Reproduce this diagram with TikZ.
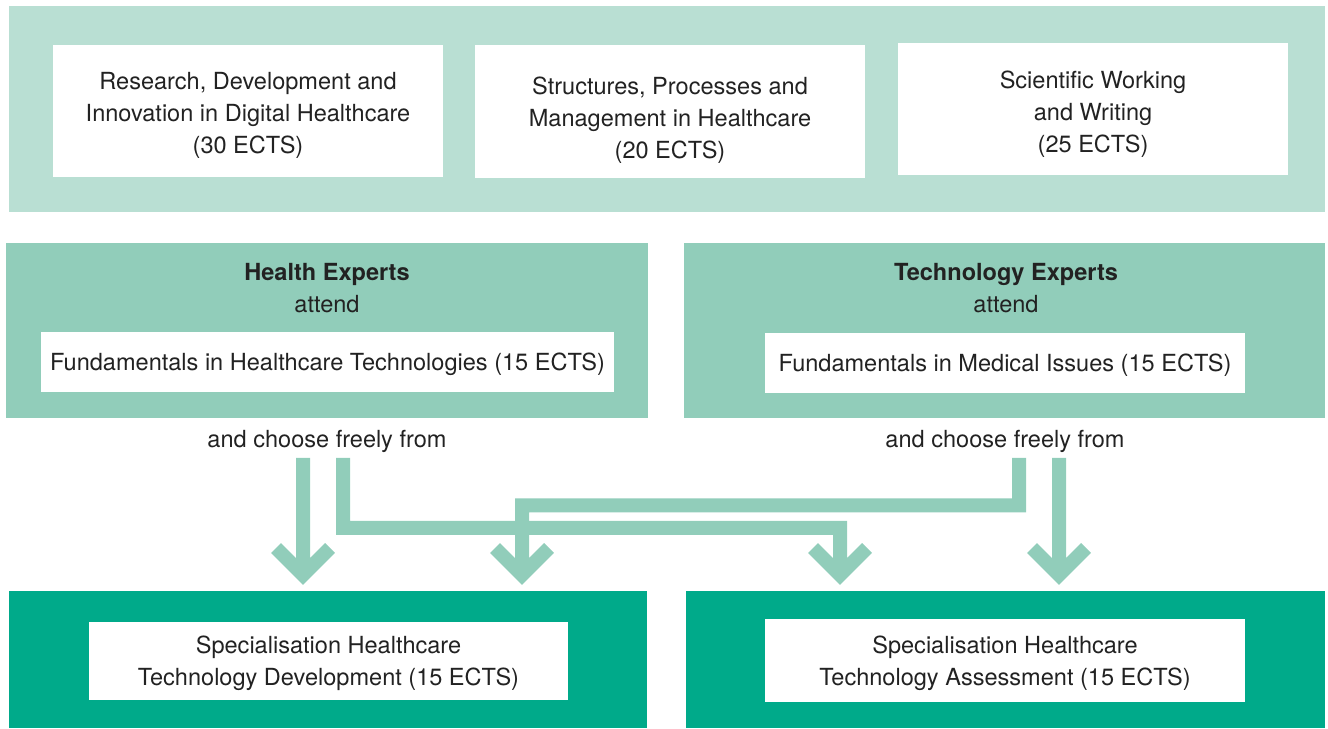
\documentclass[tikz,border=0pt]{standalone}
\usepackage{fontspec}
\setmainfont{TeX Gyre Heros}
\usepackage{xcolor}
\usetikzlibrary{positioning}

\definecolor{bandmint}{HTML}{B9DFD3}
\definecolor{expertmint}{HTML}{91CDBA}
\definecolor{specgreen}{HTML}{00AA8A}
\definecolor{inkgrey}{HTML}{222222}

\begin{document}
\begin{tikzpicture}[
    x=0.2mm, y=-0.2mm,
    font=\fontsize{13.4}{18.2}\selectfont, text=inkgrey,
    panel/.style 2 args={rectangle, inner sep=0pt, minimum width=#1*0.2mm, minimum height=#2*0.2mm},
    band/.style={fill=bandmint},
    expert/.style={fill=expertmint},
    spec/.style={fill=specgreen},
    module/.style={fill=white},
    caption/.style={align=center, inner sep=0pt},
    flow/.style={draw=expertmint, line width=14*0.2mm}
]
\useasboundingbox (0,0) rectangle (1328,729);

% Common modules
\node[panel={1316}{206}, band] (common) at (667,109) {};
\node[panel={390}{132}, module] (research) at (248,111) {};
\node[caption] (research-text) at (248,115) {Research, Development and\\Innovation in Digital Healthcare\\(30 ECTS)};
\node[panel={390}{133}, module] (structures) at (670,111.5) {};
\node[caption] (structures-text) at (670,120.5) {Structures, Processes and\\Management in Healthcare\\(20 ECTS)};
\node[panel={390}{132}, module] (writing) at (1093,109) {};
\node[caption] (writing-text) at (1093,114) {Scientific Working\\and Writing\\(25 ECTS)};

% Health experts
\node[panel={642}{175}, expert] (health) at (327,330.5) {};
\node[caption] (health-title) at (327,288) {\textbf{Health Experts}\\attend};
\node[panel={573}{60}, module] (health-fund) at (327.5,362) {};
\node[caption] (health-fund-text) at (327.5,364) {Fundamentals in Healthcare Technologies (15 ECTS)};
\node[caption] (health-choose) at (327,441) {and choose freely from};

% Technology experts
\node[panel={641}{175}, expert] (tech) at (1004.5,330.5) {};
\node[caption] (tech-title) at (1006,288) {\textbf{Technology Experts}\\attend};
\node[panel={480}{60}, module] (tech-fund) at (1005,363) {};
\node[caption] (tech-fund-text) at (1005,365) {Fundamentals in Medical Issues (15 ECTS)};
\node[caption] (tech-choose) at (1005,441) {and choose freely from};

% Specialisations
\node[panel={638}{137}, spec] (dev) at (328,659.5) {};
\node[panel={479}{78}, module] (dev-spec) at (328.5,661) {};
\node[caption] (dev-text) at (328.5,663) {Specialisation Healthcare\\Technology Development (15 ECTS)};
\node[panel={639}{137}, spec] (assess) at (1005.5,659.5) {};
\node[panel={480}{83}, module] (assess-spec) at (1005,660.5) {};
\node[caption] (assess-text) at (1005,663.5) {Specialisation Healthcare\\Technology Assessment (15 ECTS)};

% Arrow ends
\coordinate (h-dev) at (303,458);
\coordinate (h-ass) at (343,458);
\coordinate (t-dev) at (1019,458);
\coordinate (t-ass) at (1059,458);
\coordinate (h-bend) at (343,528);
\coordinate (t-bend) at (1019,505.5);
\coordinate (dev-a) at (303,575);
\coordinate (dev-b) at (522,575);
\coordinate (ass-a) at (840,575);
\coordinate (ass-b) at (1059,575);

% Arrows
\draw[flow] (h-dev) -- (dev-a) ++(-27,-27) -- (dev-a) -- ++(27,-27);
\draw[flow] (t-dev) -- (t-bend) -| (dev-b) ++(-27,-27) -- (dev-b) -- ++(27,-27);
\draw[flow] (h-ass) -- (h-bend) -| (ass-a) ++(-27,-27) -- (ass-a) -- ++(27,-27);
\draw[flow] (t-ass) -- (ass-b) ++(-27,-27) -- (ass-b) -- ++(27,-27);

\end{tikzpicture}
\end{document}
